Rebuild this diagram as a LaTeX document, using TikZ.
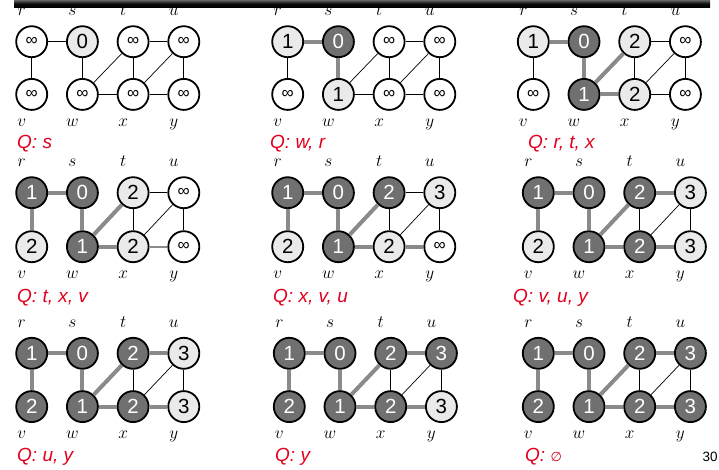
\documentclass[tikz,border=0pt]{standalone}
\usepackage{fontspec}
\setmainfont{Liberation Sans}
\newfontfamily\symfont{DejaVu Sans}
\definecolor{lightnode}{RGB}{234,234,234}
\definecolor{darknode}{RGB}{112,112,112}
\definecolor{treegrey}{RGB}{138,138,138}
\definecolor{qred}{RGB}{226,0,30}
% value shown in an undiscovered vertex
\newcommand\bfsinf{{\fontsize{17}{17}\selectfont ∞}}
% one BFS snapshot: #1 prefix, #2/#3 position of r, #4 row gap,
% #5 vertex list name/col/row/style/value, #6 edge style overrides
\newcommand\bfspanel[6]{%
  \begin{scope}[shift={(#2,#3)},#6]
    \foreach \n/\i/\j/\st/\val in {#5}
      \node[vtx,\st] (#1\n) at (\i*50.7,\j*#4) {\val};
    \foreach \n/\i in {r/0,s/1,t/2,u/3}
      \node[vlbl] (#1l\n) at (\i*50.7-10,-26) {$\n$};
    \foreach \n/\i in {v/0,w/1,x/2,y/3}
      \node[vlbl] (#1l\n) at (\i*50.7-10,#4+32) {$\n$};
    \draw[e-rs] (#1r) -- (#1s);
    \draw[e-rv] (#1r) -- (#1v);
    \draw[e-sw] (#1s) -- (#1w);
    \draw[e-wt] (#1w) -- (#1t);
    \draw[e-wx] (#1w) -- (#1x);
    \draw[e-tx] (#1t) -- (#1x);
    \draw[e-tu] (#1t) -- (#1u);
    \draw[e-xu] (#1x) -- (#1u);
    \draw[e-xy] (#1x) -- (#1y);
    \draw[e-uy] (#1u) -- (#1y);
  \end{scope}}
\begin{document}
\begin{tikzpicture}[x=1pt,y=-1pt,
  vtx/.style={circle,draw=black,line width=1.8pt,minimum size=31pt,inner sep=0pt,
    font=\fontsize{20.5}{20.5}\selectfont},
  plainv/.style={fill=white},
  greyv/.style={fill=lightnode},
  darkv/.style={fill=darknode,text=white},
  vlbl/.style={anchor=base,inner sep=0pt,font=\fontsize{18}{18}\selectfont},
  qlbl/.style={anchor=base west,inner sep=0pt,text=qred,
    font=\fontsize{19}{19}\selectfont\itshape},
  plainedge/.style={draw=black,line width=1.1pt},
  diagedge/.style={draw=black,line width=0.7pt},
  treeedge/.style={draw=treegrey,line width=4pt},
  halfedge/.style={draw=treegrey,line width=2pt},
  e-rs/.style={plainedge}, e-rv/.style={plainedge}, e-sw/.style={plainedge},
  e-wt/.style={diagedge}, e-wx/.style={plainedge}, e-tx/.style={plainedge},
  e-tu/.style={plainedge}, e-xu/.style={diagedge}, e-xy/.style={plainedge},
  e-uy/.style={plainedge}]
\useasboundingbox (0,0) rectangle (719,469);
\fill[white] (0,0) rectangle (719,469);

% row 1
\bfspanel{A}{31.7}{41.7}{52.7}
  {r/0/0/plainv/\bfsinf, s/1/0/greyv/0, t/2/0/plainv/\bfsinf, u/3/0/plainv/\bfsinf,
   v/0/1/plainv/\bfsinf, w/1/1/plainv/\bfsinf, x/2/1/plainv/\bfsinf, y/3/1/plainv/\bfsinf}
  {}
\bfspanel{B}{287.7}{41.7}{52.7}
  {r/0/0/greyv/1, s/1/0/darkv/0, t/2/0/plainv/\bfsinf, u/3/0/plainv/\bfsinf,
   v/0/1/plainv/\bfsinf, w/1/1/greyv/1, x/2/1/plainv/\bfsinf, y/3/1/plainv/\bfsinf}
  {e-rs/.style=treeedge, e-sw/.style=treeedge}
\bfspanel{C}{533.3}{41.7}{52.7}
  {r/0/0/greyv/1, s/1/0/darkv/0, t/2/0/greyv/2, u/3/0/plainv/\bfsinf,
   v/0/1/plainv/\bfsinf, w/1/1/darkv/1, x/2/1/greyv/2, y/3/1/plainv/\bfsinf}
  {e-rs/.style=treeedge, e-sw/.style=treeedge, e-wt/.style=treeedge, e-wx/.style=treeedge}

% row 2
\bfspanel{D}{31.7}{192.7}{54}
  {r/0/0/darkv/1, s/1/0/darkv/0, t/2/0/greyv/2, u/3/0/plainv/\bfsinf,
   v/0/1/greyv/2, w/1/1/darkv/1, x/2/1/greyv/2, y/3/1/plainv/\bfsinf}
  {e-rs/.style=treeedge, e-rv/.style=treeedge, e-sw/.style=treeedge,
   e-wt/.style=treeedge, e-wx/.style=treeedge, e-xy/.style=halfedge}
\bfspanel{E}{287.7}{192.7}{54}
  {r/0/0/darkv/1, s/1/0/darkv/0, t/2/0/darkv/2, u/3/0/greyv/3,
   v/0/1/greyv/2, w/1/1/darkv/1, x/2/1/greyv/2, y/3/1/plainv/\bfsinf}
  {e-rs/.style=treeedge, e-rv/.style=treeedge, e-sw/.style=treeedge,
   e-wt/.style=treeedge, e-wx/.style=treeedge, e-xy/.style=treeedge}
\bfspanel{F}{538.3}{192.7}{54}
  {r/0/0/darkv/1, s/1/0/darkv/0, t/2/0/darkv/2, u/3/0/greyv/3,
   v/0/1/greyv/2, w/1/1/darkv/1, x/2/1/darkv/2, y/3/1/greyv/3}
  {e-rs/.style=treeedge, e-rv/.style=treeedge, e-sw/.style=treeedge,
   e-wt/.style=treeedge, e-wx/.style=treeedge, e-tu/.style=treeedge, e-xy/.style=treeedge}

% row 3
\bfspanel{G}{31.7}{353.3}{53.3}
  {r/0/0/darkv/1, s/1/0/darkv/0, t/2/0/darkv/2, u/3/0/greyv/3,
   v/0/1/darkv/2, w/1/1/darkv/1, x/2/1/darkv/2, y/3/1/greyv/3}
  {e-rs/.style=treeedge, e-rv/.style=treeedge, e-sw/.style=treeedge,
   e-wt/.style=treeedge, e-wx/.style=treeedge, e-tu/.style=treeedge, e-xy/.style=treeedge}
\bfspanel{H}{289.3}{353.3}{53.3}
  {r/0/0/darkv/1, s/1/0/darkv/0, t/2/0/darkv/2, u/3/0/darkv/3,
   v/0/1/darkv/2, w/1/1/darkv/1, x/2/1/darkv/2, y/3/1/greyv/3}
  {e-rs/.style=treeedge, e-rv/.style=treeedge, e-sw/.style=treeedge,
   e-wt/.style=treeedge, e-wx/.style=treeedge, e-tu/.style=treeedge, e-xy/.style=treeedge}
\bfspanel{I}{538.3}{353.3}{53.3}
  {r/0/0/darkv/1, s/1/0/darkv/0, t/2/0/darkv/2, u/3/0/darkv/3,
   v/0/1/darkv/2, w/1/1/darkv/1, x/2/1/darkv/2, y/3/1/darkv/3}
  {e-rs/.style=treeedge, e-rv/.style=treeedge, e-sw/.style=treeedge,
   e-wt/.style=treeedge, e-wx/.style=treeedge, e-tu/.style=treeedge, e-xy/.style=treeedge}

% queue contents
\node[qlbl] (qA) at (17,148) {Q: s};
\node[qlbl] (qB) at (270,148) {Q: w, r};
\node[qlbl] (qC) at (528,148) {Q: r, t, x};
\node[qlbl] (qD) at (17,302.5) {Q: t, x, v};
\node[qlbl] (qE) at (273,302.5) {Q: x, v, u};
\node[qlbl] (qF) at (513,302.5) {Q: v, u, y};
\node[qlbl] (qG) at (17,461.5) {Q: u, y};
\node[qlbl] (qH) at (275,461.5) {Q: y};
\node[qlbl] (qI) at (525,461.5) {Q: {\upshape\symfont\fontsize{13}{13}\selectfont ∅}};

% title rule and slide number
\shade[top color=black!60, bottom color=black, middle color=black!95] (14,0) rectangle (710,7);
\node[anchor=base west,inner sep=0pt,font=\fontsize{13.5}{13.5}\selectfont] (pg) at (702.5,461) {30};
\end{tikzpicture}
\end{document}
